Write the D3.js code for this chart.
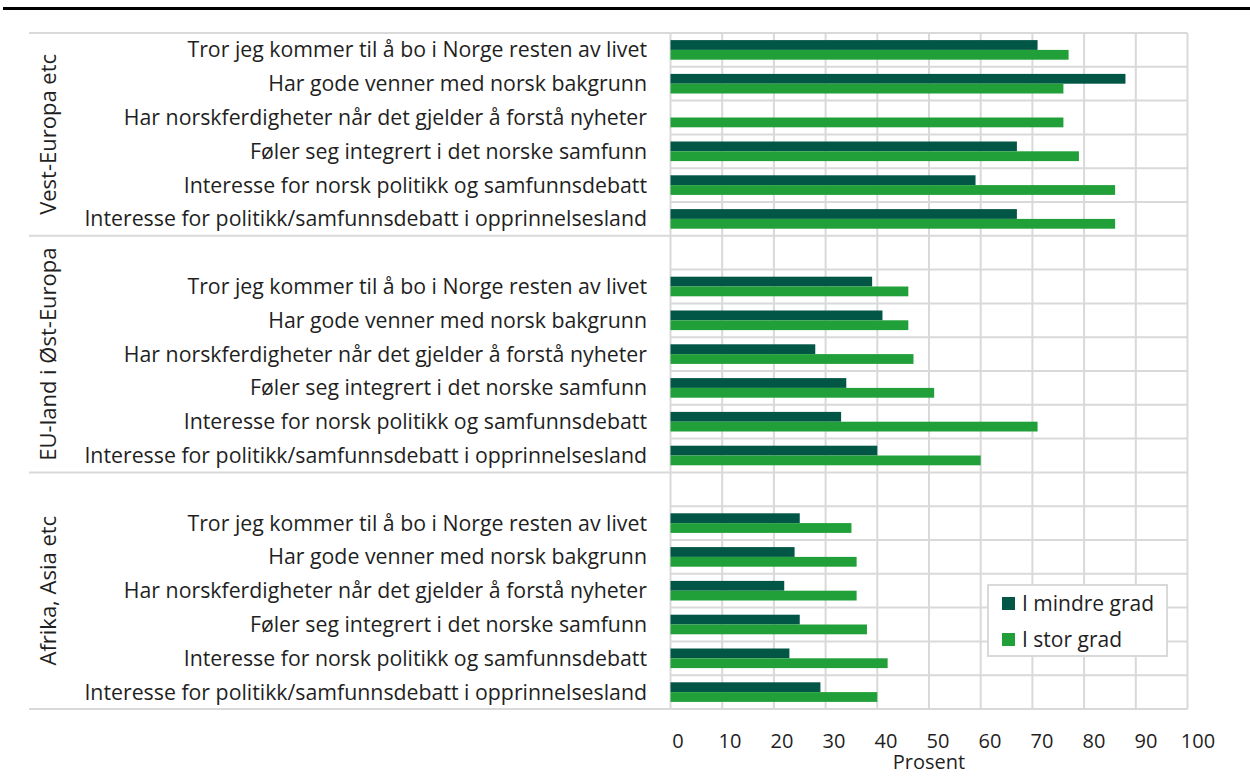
<!DOCTYPE html>
<html>
<head>
<meta charset="utf-8">
<script src="https://cdn.jsdelivr.net/npm/d3@7"></script>
<style>
  body { margin: 0; background: #fff; }
  text { font-family: "Open Sans", sans-serif; fill: #1f1f1f; }
</style>
</head>
<body>
<svg id="chart" width="1250" height="776"></svg>
<script>
'use strict';

// data, top to bottom inside each group
var groups = ['Vest-Europa etc', 'EU-land i Øst-Europa', 'Afrika, Asia etc'];
var categories = [
  'Tror jeg kommer til å bo i Norge resten av livet',
  'Har gode venner med norsk bakgrunn',
  'Har norskferdigheter når det gjelder å forstå nyheter',
  'Føler seg integrert i det norske samfunn',
  'Interesse for norsk politikk og samfunnsdebatt',
  'Interesse for politikk/samfunnsdebatt i opprinnelsesland'
];
var seriesNames = ['I mindre grad', 'I stor grad'];
var mindreGrad = [
  [71, 88, null, 67, 59, 67],
  [39, 41, 28, 34, 33, 40],
  [25, 24, 22, 25, 23, 29]
];
var storGrad = [
  [77, 76, 76, 79, 86, 86],
  [46, 46, 47, 51, 71, 60],
  [35, 36, 36, 38, 42, 40]
];
var xTicks = [0, 10, 20, 30, 40, 50, 60, 70, 80, 90, 100];

var colors = { 'I mindre grad': '#025645', 'I stor grad': '#21a039' };
var gridColor = '#d9d9d9';

var svg = d3.select('#chart');

// one slot per category row, plus an empty slot in front of every group but the first
var slots = [];
groups.forEach(function (g, gi) {
  if (gi > 0) slots.push({ id: 'gap' + gi, gap: true, group: gi });
  categories.forEach(function (c, ci) {
    slots.push({ id: g + '|' + c, group: gi, cat: ci, label: c,
      values: [mindreGrad[gi][ci], storGrad[gi][ci]] });
  });
});

var plotLeft = 670.5, plotRight = 1187.5, plotTop = 33, plotBottom = 709;

var x = d3.scaleLinear().domain([0, 100]).range([plotLeft, plotRight]);
var xLabel = d3.scaleLinear().domain([0, 100]).range([678, 1198]);
var y = d3.scaleBand().domain(slots.map(function (s) { return s.id; })).range([plotTop, plotBottom]);
var bw = y.bandwidth();
var ySub = d3.scaleBand().domain(seriesNames).range([bw * 0.21, bw * 0.79]);

// black rule on top
svg.append('rect').attr('x', 3).attr('y', 7).attr('width', 1247).attr('height', 3).attr('fill', '#000');

var grid = svg.append('g').attr('stroke', gridColor).attr('stroke-width', 2);

// vertical grid
grid.selectAll('line.v').data(xTicks).enter().append('line')
  .attr('class', 'v')
  .attr('x1', function (d) { return x(d); }).attr('x2', function (d) { return x(d); })
  .attr('y1', plotTop).attr('y2', plotBottom);

// row lines
var rowEdges = slots.map(function (s) { return y(s.id); }).concat([plotBottom]);
grid.selectAll('line.h').data(rowEdges).enter().append('line')
  .attr('class', 'h')
  .attr('x1', plotLeft).attr('x2', plotRight)
  .attr('y1', function (d) { return d; }).attr('y2', function (d) { return d; });

// group separators reach into the label column
var groupEdges = [plotTop].concat(slots.filter(function (s) { return s.gap; }).map(function (s) { return y(s.id); }), [plotBottom]);
grid.selectAll('line.g').data(groupEdges).enter().append('line')
  .attr('class', 'g')
  .attr('x1', 29).attr('x2', plotLeft)
  .attr('y1', function (d) { return d; }).attr('y2', function (d) { return d; });

// bars
var rows = svg.append('g').selectAll('g.row')
  .data(slots.filter(function (s) { return !s.gap; }))
  .enter().append('g')
  .attr('transform', function (s) { return 'translate(0,' + y(s.id) + ')'; });

rows.selectAll('rect')
  .data(function (s) {
    return seriesNames.map(function (n, i) { return { name: n, value: s.values[i] }; })
      .filter(function (d) { return d.value != null; });
  })
  .enter().append('rect')
  .attr('x', x(0))
  .attr('y', function (d) { return ySub(d.name); })
  .attr('width', function (d) { return x(d.value) - x(0); })
  .attr('height', ySub.bandwidth())
  .attr('fill', function (d) { return colors[d.name]; });

// category labels
rows.append('text')
  .attr('x', 647)
  .attr('y', bw / 2 + 7.5)
  .attr('text-anchor', 'end')
  .attr('font-size', 21.3)
  .text(function (s) { return s.label; });

// group labels, rotated
groups.forEach(function (g, gi) {
  var inGroup = slots.filter(function (s) { return s.group === gi; });
  var top = y(inGroup[0].id);
  var bottom = y(inGroup[inGroup.length - 1].id) + bw;
  var cy = (top + bottom) / 2;
  svg.append('text')
    .attr('transform', 'translate(56,' + cy + ') rotate(-90)')
    .attr('text-anchor', 'middle')
    .attr('font-size', 22)
    .text(g);
});

// x tick labels
svg.append('g').selectAll('text').data(xTicks).enter().append('text')
  .attr('x', function (d) { return xLabel(d); })
  .attr('y', 748)
  .attr('text-anchor', 'middle')
  .attr('font-size', 20)
  .text(function (d) { return d; });

svg.append('text')
  .attr('x', 929).attr('y', 769)
  .attr('text-anchor', 'middle')
  .attr('font-size', 20)
  .text('Prosent');

// legend
var legend = svg.append('g').attr('transform', 'translate(988,585)');
legend.append('rect').attr('width', 179).attr('height', 71)
  .attr('fill', '#fff').attr('stroke', gridColor).attr('stroke-width', 2);
var items = legend.selectAll('g.item').data(seriesNames).enter().append('g')
  .attr('transform', function (d, i) { return 'translate(14,' + (12 + i * 36) + ')'; });
items.append('rect').attr('width', 13).attr('height', 13)
  .attr('fill', function (d) { return colors[d]; });
items.append('text').attr('x', 20).attr('y', 13.5).attr('font-size', 21)
  .text(function (d) { return d; });
</script>
</body>
</html>
